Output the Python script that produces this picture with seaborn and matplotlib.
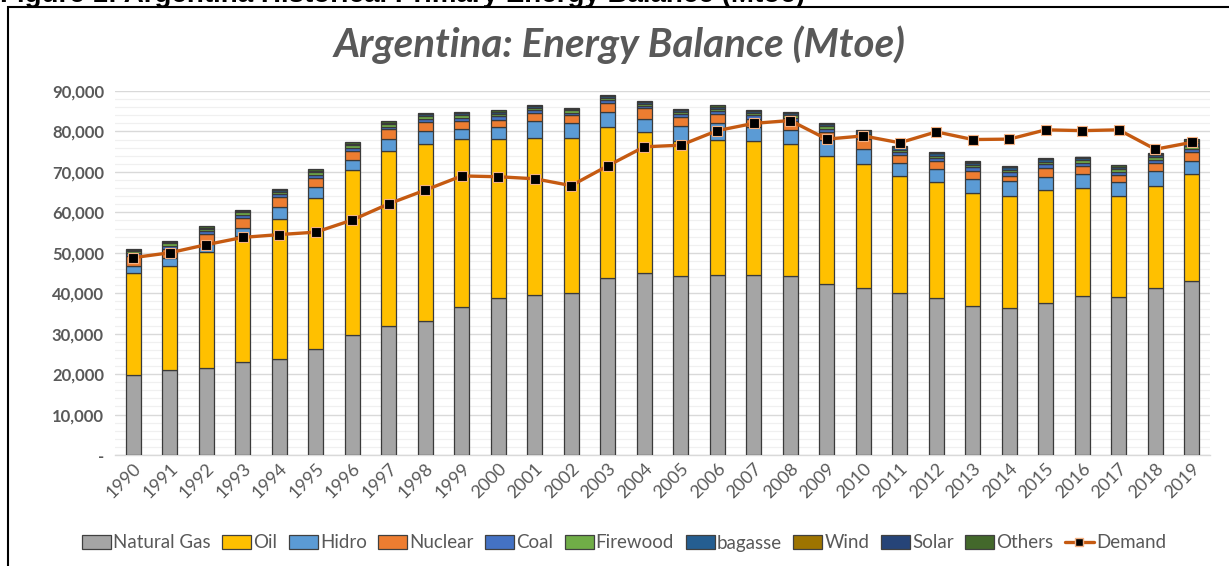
import numpy as np
import pandas as pd
import matplotlib
matplotlib.use("Agg")
import matplotlib.pyplot as plt
import seaborn as sns
from matplotlib.patches import Patch, Rectangle
from matplotlib.lines import Line2D
from matplotlib.ticker import FuncFormatter, MultipleLocator

years = [str(y) for y in range(1990, 2020)]

natural_gas = [19800, 21000, 21500, 23000, 23700, 26200, 29700, 31900, 33100, 36600,
               38800, 39600, 40000, 43800, 45000, 44200, 44500, 44500, 44200, 42300,
               41300, 40000, 38800, 36800, 36300, 37600, 39300, 39100, 41300, 43000]
oil = [25100, 25800, 28800, 31100, 34600, 37300, 40700, 43300, 43900, 41500,
       39300, 38900, 38300, 37300, 34900, 33400, 33300, 33100, 32700, 31600,
       30700, 28900, 28600, 27900, 27800, 27800, 26800, 24900, 25200, 26600]
hidro = [1900, 1800, 1800, 2100, 3100, 2800, 2600, 2900, 3100, 2400,
         3100, 4000, 3900, 3700, 3300, 3700, 4200, 3600, 3400, 4000,
         3700, 3200, 3200, 3600, 3600, 3400, 3300, 3400, 3800, 3100]
nuclear = [2400, 2300, 2500, 2500, 2500, 2200, 2200, 2400, 2300, 2100,
           1600, 2000, 1800, 2200, 2500, 2200, 2200, 2000, 2400, 2000,
           2400, 2000, 2000, 1900, 1400, 2200, 2100, 1800, 1800, 2300]
coal = [700, 800, 700, 700, 700, 800, 800, 700, 800, 800,
        900, 700, 600, 700, 600, 700, 800, 800, 700, 800,
        700, 800, 800, 900, 800, 900, 800, 800, 800, 700]
firewood = [500, 600, 500, 600, 500, 600, 600, 600, 600, 600,
            700, 600, 600, 600, 600, 600, 600, 600, 600, 600,
            600, 600, 600, 600, 600, 600, 600, 600, 700, 800]
bagasse = [300, 400, 400, 400, 400, 400, 400, 400, 400, 500,
           500, 500, 400, 500, 400, 400, 500, 500, 500, 600,
           600, 600, 600, 600, 600, 600, 600, 600, 600, 600]
wind = [0, 0, 0, 0, 0, 0, 0, 0, 0, 0,
        0, 0, 0, 0, 0, 0, 0, 0, 0, 0,
        0, 0, 100, 100, 100, 100, 100, 100, 200, 500]
solar = [0, 0, 0, 0, 0, 0, 0, 0, 0, 0,
         0, 0, 0, 0, 0, 0, 0, 0, 0, 0,
         0, 0, 0, 0, 0, 0, 0, 0, 10, 30]
others = [200, 300, 300, 300, 300, 300, 300, 300, 300, 300,
          300, 300, 300, 300, 300, 300, 400, 300, 300, 300,
          300, 300, 200, 300, 200, 200, 200, 300, 300, 400]
demand = [48800, 50000, 52000, 53800, 54500, 55100, 58100, 62100, 65500, 69000,
          68800, 68300, 66600, 71500, 76200, 76600, 80200, 82000, 82700, 78100,
          78900, 77200, 79900, 78000, 78100, 80400, 80200, 80400, 75600, 77300]

series_names = ["Natural Gas", "Oil", "Hidro", "Nuclear", "Coal", "Firewood",
                "bagasse", "Wind", "Solar", "Others"]
series_vals = [natural_gas, oil, hidro, nuclear, coal, firewood, bagasse, wind, solar, others]
colors = ["#A5A5A5", "#FFC000", "#5B9BD5", "#ED7D31", "#4472C4", "#70AD47",
          "#255E91", "#9E7400", "#264478", "#43682B"]
demand_color = "#C55A11"

sns.set_theme(style="white")
plt.rcParams["font.family"] = ["Lato", "DejaVu Sans"]

W, H = 1229, 566
fig = plt.figure(figsize=(W / 100, H / 100), dpi=100)
ax = fig.add_axes([115 / W, 1 - 455 / H, (1210 - 115) / W, (455 - 91) / H])

df = pd.DataFrame({"year": years})
bottom = np.zeros(len(years))
for name, vals, col in zip(series_names, series_vals, colors):
    df[name] = vals
    sns.barplot(data=df, x="year", y=name, color=col, width=0.4, bottom=bottom,
                edgecolor="#3a3a3a", linewidth=0.9, saturation=1, ax=ax, zorder=3)
    bottom = bottom + np.array(vals, dtype=float)

sns.lineplot(x=np.arange(len(years)), y=demand, color=demand_color, linewidth=2.4,
             marker="s", markersize=7, markerfacecolor="black", markeredgecolor="#F4B183",
             markeredgewidth=0.8, ax=ax, zorder=5)

ax.set_ylim(0, 90000)
ax.set_xlim(-0.5, len(years) - 0.5)
ax.yaxis.set_major_locator(MultipleLocator(10000))
ax.yaxis.set_minor_locator(MultipleLocator(2000))
ax.yaxis.set_major_formatter(FuncFormatter(lambda v, p: "-" if v == 0 else f"{int(v):,}"))
ax.grid(axis="y", which="major", color="#d9d9d9", linewidth=1.0, zorder=0)
ax.grid(axis="y", which="minor", color="#f0f0f0", linewidth=0.9, zorder=0)
ax.set_axisbelow(True)
for s in ["top", "right", "left"]:
    ax.spines[s].set_visible(False)
ax.spines["bottom"].set_color("#d9d9d9")
ax.spines["bottom"].set_linewidth(1.0)
ax.set_xlabel("")
ax.set_ylabel("")
ax.tick_params(axis="y", which="both", length=0, labelsize=12, labelcolor="#595959", pad=8)
for lab in ax.get_yticklabels():
    lab.set_fontweight("bold")
ax.tick_params(axis="x", length=0, labelsize=13, labelcolor="#595959", pad=4)
plt.setp(ax.get_xticklabels(), rotation=45, ha="right", rotation_mode="anchor")

fig.text(620 / W, 1 - 45 / H, "Argentina: Energy Balance (Mtoe)", fontsize=29,
         fontstyle="italic", fontweight="bold", color="#595959", ha="center", va="center")

handles = [Patch(facecolor=c, edgecolor="#404040", linewidth=0.9) for c in colors]
handles.append(Line2D([0], [0], color=demand_color, linewidth=2.4, marker="s", markersize=6,
                      markerfacecolor="black", markeredgecolor="#F4B183"))
labels = series_names + ["Demand"]
leg = fig.legend(handles, labels, loc="center", bbox_to_anchor=(624 / W, 1 - 543 / H),
                 ncol=11, frameon=False, fontsize=13.5, handlelength=1.55, handleheight=0.8,
                 handletextpad=0.1, columnspacing=0.62, labelcolor="#595959")

fig.text(0.0, 1 - 2 / H, "Figure 1: Argentina Historical Primary Energy Balance (Mtoe)",
         fontsize=20, fontweight="bold", color="black", va="baseline", ha="left",
         family=["Liberation Sans", "DejaVu Sans"])
fig.add_artist(Rectangle((8 / W, -0.05), 1.2, 1 - 7 / H + 0.05, transform=fig.transFigure,
                         fill=False, edgecolor="black", linewidth=1.5, clip_on=False))

fig.savefig("out.png", dpi=100)
